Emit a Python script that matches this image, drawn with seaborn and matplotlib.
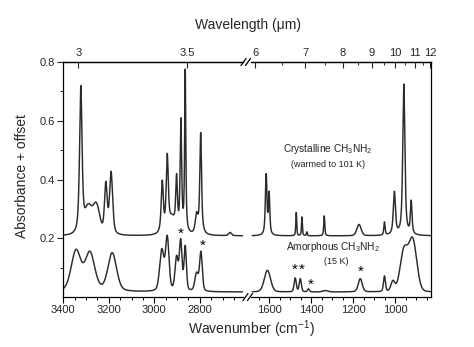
import numpy as np
import pandas as pd
import matplotlib
matplotlib.use("Agg")
import matplotlib.pyplot as plt
import seaborn as sns
from matplotlib.ticker import FixedLocator, MultipleLocator, NullFormatter, FuncFormatter
from matplotlib.lines import Line2D

# ---------------------------------------------------------------------------
# Bands of each spectrum: centre (cm-1), absorbance at the centre,
# FWHM (cm-1) and Lorentzian fraction of a pseudo-Voigt profile.
# ---------------------------------------------------------------------------
cryst_offset = 0.208
cryst_wn = [3323, 3290, 3255, 3213, 3190,
            2965, 2943, 2922, 2902, 2883, 2864, 2814, 2796, 2667,
            1614, 1600, 1471, 1444, 1421, 1338, 1173, 1052, 1005, 960, 925]
cryst_abs = [0.720, 0.318, 0.322, 0.394, 0.428,
             0.398, 0.489, 0.282, 0.420, 0.610, 0.776, 0.290, 0.560, 0.220,
             0.420, 0.360, 0.288, 0.273, 0.222, 0.276, 0.247, 0.256, 0.360, 0.725, 0.330]
cryst_fwhm = [13, 35, 35, 14, 16,
              11, 11, 30, 9, 8, 6, 14, 9, 15,
              9, 8, 5, 5, 5, 6, 24, 7, 12, 12, 9]
cryst_shape = [0.7, 0.0, 0.0, 0.5, 0.5,
               0.8, 0.8, 0.0, 0.8, 0.8, 0.8, 0.6, 0.8, 0.5,
               0.7, 0.7, 0.6, 0.6, 0.6, 0.6, 0.3, 0.6, 0.7, 0.7, 0.7]

amorph_offset = 0.017
amorph_wn = [3344, 3283, 3185,
             2967, 2943, 2902, 2884, 2864, 2814, 2795,
             1608, 1476, 1452, 1413, 1333, 1167, 1052, 1012, 960, 918]
amorph_abs = [0.1625, 0.156, 0.151,
              0.165, 0.210, 0.142, 0.199, 0.176, 0.085, 0.156,
              0.091, 0.065, 0.0625, 0.028, 0.022, 0.0625, 0.072, 0.057, 0.171, 0.203]
amorph_fwhm = [50, 50, 45,
               22, 18, 16, 14, 12, 18, 14,
               35, 12, 12, 10, 30, 22, 11, 22, 42, 45]
amorph_shape = [0.3, 0.3, 0.3,
                0.3, 0.3, 0.3, 0.3, 0.3, 0.3, 0.3,
                0.2, 0.3, 0.3, 0.3, 0.0, 0.3, 0.3, 0.3, 0.1, 0.1]

# starred amorphous bands (wavenumber, label height)
star_wn = [2884, 2788, 1477, 1443, 1404, 1167]
star_y = [0.214, 0.173, 0.094, 0.094, 0.041, 0.086]

# axis segments (cm-1)
left_range = (3400, 2610)
right_range = (1686, 833.3)
left_major = [3400, 3200, 3000, 2800]
right_major = [1600, 1400, 1200, 1000]
top_left_um = [3, 3.5]
top_right_um = [6, 7, 8, 9, 10, 11, 12]
top_right_minor_um = [6.5, 7.5, 8.5, 9.5, 10.5, 11.5]
y_major = [0.2, 0.4, 0.6, 0.8]
y_minor = [0.1, 0.3, 0.5, 0.7]


def profiles(wn, centers, fwhm, shape):
    wn = np.asarray(wn, dtype=float)[:, None]
    c = np.asarray(centers, dtype=float)[None, :]
    w = np.asarray(fwhm, dtype=float)[None, :]
    eta = np.asarray(shape, dtype=float)[None, :]
    d = (wn - c) / (w / 2.0)
    return eta / (1.0 + d ** 2) + (1 - eta) * np.exp(-np.log(2) * d ** 2)


def spectrum(wn, offset, centers, absorb, fwhm, shape):
    # band amplitudes chosen so the summed curve meets each listed
    # absorbance at its band centre
    A = profiles(centers, centers, fwhm, shape)
    amp = np.linalg.solve(A, np.asarray(absorb) - offset)
    return offset + profiles(wn, centers, fwhm, shape) @ amp


wn_left = np.linspace(3400, 2612, 2400)
wn_right = np.linspace(1680, 833.3, 2600)

frames = []
for seg, wn in (("left", wn_left), ("right", wn_right)):
    frames.append(pd.DataFrame({
        "wavenumber": wn, "segment": seg, "sample": "crystalline",
        "absorbance": spectrum(wn, cryst_offset, cryst_wn, cryst_abs,
                               cryst_fwhm, cryst_shape)}))
    frames.append(pd.DataFrame({
        "wavenumber": wn, "segment": seg, "sample": "amorphous",
        "absorbance": spectrum(wn, amorph_offset, amorph_wn, amorph_abs,
                               amorph_fwhm, amorph_shape)}))
df = pd.concat(frames, ignore_index=True)

sns.set_theme(style="ticks")
plt.rcParams["font.family"] = ["Liberation Sans", "DejaVu Sans"]
plt.rcParams["mathtext.fontset"] = "custom"
plt.rcParams["mathtext.rm"] = "Liberation Sans"
plt.rcParams["mathtext.it"] = "Liberation Sans:italic"
plt.rcParams["mathtext.default"] = "regular"

W, H = 474, 347
fig = plt.figure(figsize=(W / 100, H / 100), dpi=100)


def fx(px):
    return px / W


def fy(py):
    return 1 - py / H


ax_l = fig.add_axes([fx(63.3), fy(297), fx(243) - fx(63.3), fy(62) - fy(297)])
ax_r = fig.add_axes([fx(251), fy(297), fx(430.5) - fx(251), fy(62) - fy(297)],
                    sharey=ax_l)

line_col = "#2b2b2b"
for ax, seg, xr, majors in ((ax_l, "left", left_range, left_major),
                            (ax_r, "right", right_range, right_major)):
    sub = df[df["segment"] == seg]
    sns.lineplot(data=sub, x="wavenumber", y="absorbance", units="sample",
                 estimator=None, sort=False, color=line_col, lw=1.05, ax=ax)
    ax.set_xlim(*xr)
    ax.set_ylim(0, 0.8)
    ax.set_xlabel("")
    ax.set_ylabel("")
    ax.xaxis.set_major_locator(FixedLocator(majors))
    ax.xaxis.set_minor_locator(MultipleLocator(50))
    ax.tick_params(axis="x", which="major", direction="out", length=4, width=0.8,
                   labelsize=8, pad=2, color="black")
    ax.tick_params(axis="x", which="minor", direction="out", length=2.3, width=0.7,
                   color="black")
    for s in ax.spines.values():
        s.set_linewidth(0.9)
        s.set_color("black")

ax_l.spines["right"].set_visible(False)
ax_r.spines["left"].set_visible(False)
ax_r.tick_params(axis="y", which="both", left=False, labelleft=False)
ax_l.yaxis.set_major_locator(FixedLocator(y_major))
ax_l.yaxis.set_minor_locator(FixedLocator(y_minor))
ax_l.yaxis.set_major_formatter(FuncFormatter(lambda v, p: f"{v:.1f}"))
ax_l.tick_params(axis="y", which="major", direction="out", length=4, width=0.8,
                 labelsize=8, pad=2)
ax_l.tick_params(axis="y", which="minor", direction="out", length=2.3, width=0.7)

# wavelength axis on top
conv = (lambda x: 1e4 / np.asarray(x, dtype=float), lambda x: 1e4 / np.asarray(x, dtype=float))
for ax, majors, minors in ((ax_l, top_left_um, []),
                           (ax_r, top_right_um, top_right_minor_um)):
    sec = ax.secondary_xaxis("top", functions=conv)
    sec.xaxis.set_major_locator(FixedLocator(majors))
    sec.xaxis.set_minor_locator(FixedLocator(minors))
    sec.xaxis.set_major_formatter(FuncFormatter(lambda v, p: f"{v:g}"))
    sec.xaxis.set_minor_formatter(NullFormatter())
    sec.tick_params(axis="x", which="major", direction="in", length=4, width=0.8,
                    labelsize=8, pad=3)
    sec.tick_params(axis="x", which="minor", direction="in", length=2.3, width=0.7)
    sec.spines["top"].set_linewidth(0.9)

# stars over amorphous bands
for w, yv in zip(star_wn, star_y):
    ax = ax_l if w > 2000 else ax_r
    ax.text(w, yv, "*", ha="center", va="center", fontsize=11, color="black")

# sample labels
ax_r.text(1324, 0.503, "Crystalline CH$_3$NH$_2$", ha="center", va="center",
          fontsize=7.3, color="#222222")
ax_r.text(1319, 0.452, "(warmed to 101 K)", ha="center", va="center",
          fontsize=6.5, color="#222222")
ax_r.text(1295, 0.170, "Amorphous CH$_3$NH$_2$", ha="center", va="center",
          fontsize=7.3, color="#222222")
ax_r.text(1281, 0.120, "(15 K)", ha="center", va="center",
          fontsize=6.5, color="#222222")

# axis titles
fig.text(fx(248), fy(25), "Wavelength (\u03bcm)", ha="center", va="center", fontsize=10)
fig.text(fx(251), fy(329), "Wavenumber (cm$^{-1}$)", ha="center", va="center", fontsize=10)
fig.text(fx(22), fy(176), "Absorbance + offset", ha="center", va="center",
         rotation=90, fontsize=10)

# axis break marks
for (x0, y0, x1, y1) in ((241, 65.5, 246, 58.5), (245.5, 65.5, 250.5, 58.5),
                         (243, 300.5, 248, 293.5), (247.5, 300.5, 252.5, 293.5)):
    fig.add_artist(Line2D([fx(x0), fx(x1)], [fy(y0), fy(y1)], color="black",
                          lw=0.9, transform=fig.transFigure))

fig.savefig("out.png", dpi=100)
